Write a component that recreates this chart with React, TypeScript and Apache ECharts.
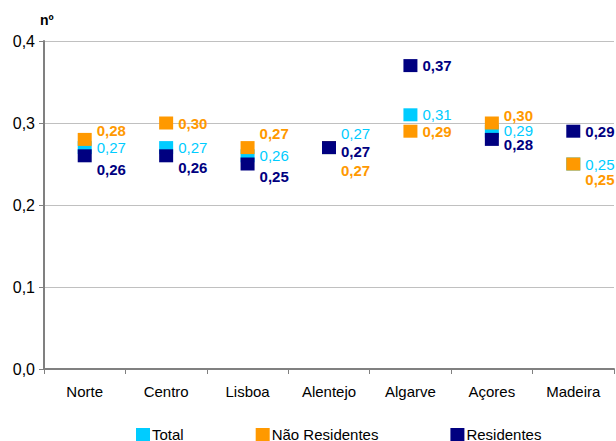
import React, { useEffect, useRef } from "react";
import * as echarts from "echarts";

const categories = ["Norte", "Centro", "Lisboa", "Alentejo", "Algarve", "Açores", "Madeira"];
const totalValues = [0.27, 0.27, 0.26, 0.27, 0.31, 0.29, 0.25];
const naoResidentesValues = [0.28, 0.3, 0.27, 0.27, 0.29, 0.3, 0.25];
const residentesValues = [0.26, 0.26, 0.25, 0.27, 0.37, 0.28, 0.29];
const yTicks = [0, 0.1, 0.2, 0.3, 0.4];

// label vertical offsets (style only)
const totalLabelDy = [0, 0, 0, -14, 0, -1, 0];
const naoLabelDy = [-9, 0, -14, 23, 0, -8, 15];
const resLabelDy = [14, 12, 12, 4, 0, 5, 0];

const FONT = "'Liberation Sans', Arial, sans-serif";
const fmt2 = (v: number) => v.toFixed(2).replace(".", ",");

function makeSeries(name: string, values: number[], color: string, bold: boolean, dys: number[]) {
  return {
    name,
    type: "scatter",
    symbol: "rect",
    symbolSize: [14, 13],
    itemStyle: { color, opacity: 1 },
    label: {
      show: true,
      position: "right",
      distance: 5,
      color,
      fontFamily: FONT,
      fontSize: 15,
      fontWeight: bold ? "bold" : "normal",
      formatter: (p: any) => fmt2(Array.isArray(p.value) ? p.value[1] : p.value),
    },
    emphasis: { disabled: true },
    data: values.map((v, i) => ({
      value: v,
      label: { offset: [0, dys[i]] },
    })),
  };
}

export default function App() {
  const ref = useRef<HTMLDivElement>(null);
  useEffect(() => {
    if (!ref.current) return;
    const chart = echarts.init(ref.current, undefined, { renderer: "svg" });
    chart.setOption({
      animation: false,
      backgroundColor: "#ffffff",
      textStyle: { fontFamily: FONT },
      grid: { left: 44, right: 2, top: 41, bottom: 72, containLabel: false },
      graphic: [
        {
          type: "text",
          left: 40,
          top: 13,
          style: { text: "nº", font: `bold 14px ${FONT}`, fill: "#000" },
        },
      ],
      legend: {
        left: 136,
        top: 427,
        padding: 0,
        itemWidth: 14,
        itemHeight: 13,
        itemGap: 72,
        icon: "rect",
        textStyle: { fontFamily: FONT, fontSize: 15, color: "#000", padding: [0, 0, 0, -3] },
        data: ["Total", "Não Residentes", "Residentes"],
      },
      xAxis: {
        type: "category",
        data: categories,
        boundaryGap: true,
        axisLine: { lineStyle: { color: "#808080", width: 2 } },
        axisTick: { show: true, length: 5, lineStyle: { color: "#808080", width: 1 } },
        axisLabel: { color: "#000", fontSize: 15, fontFamily: FONT, margin: 15 },
        splitLine: { show: false },
      },
      yAxis: {
        type: "value",
        min: yTicks[0],
        max: yTicks[yTicks.length - 1],
        interval: 0.1,
        axisLine: { show: true, lineStyle: { color: "#808080", width: 2 } },
        axisTick: { show: true, length: 5, lineStyle: { color: "#808080", width: 1 } },
        axisLabel: {
          color: "#000",
          fontSize: 16,
          fontFamily: FONT,
          margin: 9,
          formatter: (v: number) => v.toFixed(1).replace(".", ","),
        },
        splitLine: { show: true, lineStyle: { color: "#c0c0c0", width: 1 } },
      },
      series: [
        makeSeries("Total", totalValues, "#00ccff", false, totalLabelDy),
        makeSeries("Não Residentes", naoResidentesValues, "#ff9900", true, naoLabelDy),
        makeSeries("Residentes", residentesValues, "#000080", true, resLabelDy),
      ],
    });
    return () => chart.dispose();
  }, []);
  return (
    <div
      ref={ref}
      style={{ position: "absolute", left: 0, top: 0, width: 616, height: 441 }}
    />
  );
}
